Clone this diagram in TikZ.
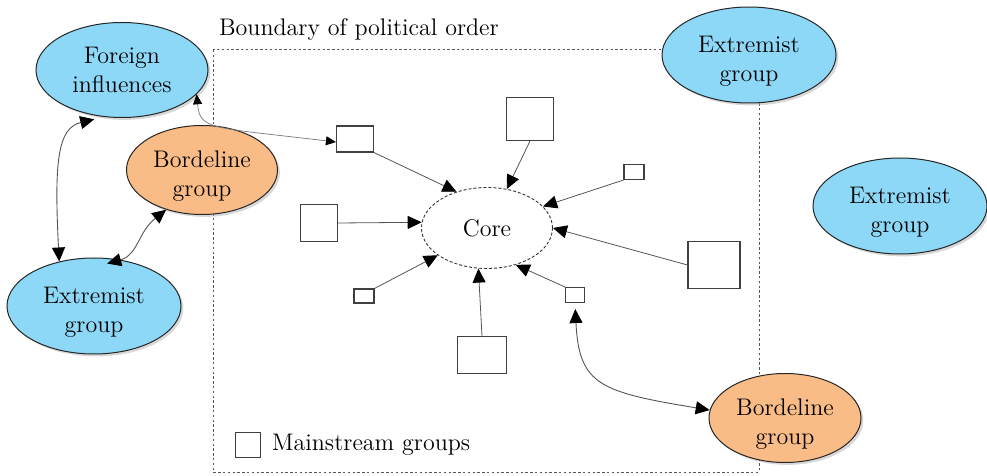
\documentclass[tikz,border=0pt]{standalone}
\usetikzlibrary{shapes.geometric,arrows.meta,shadows}
\definecolor{grpblue}{HTML}{8ED8F7}
\definecolor{grporange}{HTML}{F9BC86}
\definecolor{lnegray}{HTML}{555555}
\newcommand{\lowtxt}{\rule{0pt}{14.5pt}}
\tikzset{
grp/.style={ellipse,draw=black!85,line width=.5pt,inner sep=0pt,align=center,font=\fontsize{12}{14.5}\selectfont,drop shadow={shadow xshift=1.2pt,shadow yshift=-1.2pt,fill=black!30}},
extr/.style={grp,fill=grpblue,minimum width=87pt,minimum height=48pt},
bord/.style={grp,fill=grporange,minimum width=75.5pt,minimum height=44.5pt},
mbox/.style={draw=black!75,line width=.55pt,fill=white,inner sep=0pt},
toc/.style={draw=lnegray,line width=.4pt,-{Triangle[length=7pt,width=6.5pt,color=black]}},
twoway/.style={draw=lnegray,line width=.45pt,{Triangle[length=7pt,width=6.5pt,color=black]}-{Triangle[length=7pt,width=6.5pt,color=black]}}
}
\begin{document}
\begin{tikzpicture}[x=.5pt,y=-.5pt]
\useasboundingbox(0,0)rectangle(987,476);
\draw[lnegray,line width=.5pt,dash pattern=on 1.2pt off 1.2pt](213,50)rectangle(759,472);
\node[anchor=west,font=\fontsize{12}{14.5}\selectfont](title)at(212,30){Boundary of political order};
\node[extr,minimum width=86pt,minimum height=47.5pt](fi)at(122,70){Foreign\\influences};
\node[bord](bg1)at(202,170){\lowtxt Bordeline\\group};
\node[extr](ex1)at(94,306){\lowtxt Extremist\\group};
\node[extr](ex2)at(749,55){\lowtxt Extremist\\group};
\node[extr](ex3)at(900,206){\lowtxt Extremist\\group};
\node[bord,minimum width=76pt](bg2)at(785,418){\lowtxt Bordeline\\group};
\node[ellipse,draw=black!80,line width=.45pt,dash pattern=on 1.5pt off 1pt,minimum width=65.5pt,minimum height=40.5pt,font=\fontsize{12}{14.5}\selectfont](core)at(487,228){Core};
\foreach \n/\p/\w/\h in {sq1/{355,139}/18.5/13,sq2/{530,119}/23.5/21.5,sq3/{634,172}/10/7.5,sq4/{319,223}/18.5/18.5,sq5/{714,265}/26/23.5,sq6/{364,296}/10/7,sq7/{482,355}/24.5/18.5,sq8/{575,295}/9.5/7.5}
  \node[mbox,minimum width=\w pt,minimum height=\h pt](\n)at(\p){};
\draw[toc](sq1.south east)--(core.130);
\draw[toc](sq2.south)--(core.63);
\draw[toc](sq3.south west)--(core.21);
\draw[toc](sq4.east)--(core.175);
\draw[toc](sq5.west)--(core.east);
\draw[toc](sq6.north east)--(core.209);
\draw[toc](sq7.north)--(core.-102);
\draw[toc](sq8.north west)--(core.-52);
\draw[draw=lnegray!80,line width=.35pt,{Triangle[length=5pt,width=4.5pt,color=black]}-{Triangle[length=5pt,width=4.5pt,color=black]}](fi.-18)..controls(200,130)and(210,127)..([yshift=-1.5pt]sq1.west);
\draw[twoway,shorten <=5pt](fi.-111)..controls(58,128)and(54,160)..(ex1.128);
\draw[twoway,shorten >=-7pt](bg1.-132)..controls(138,232)and(138,255)..(ex1.60);
\draw[twoway,shorten <=3pt](sq8.south)..controls(579,385)and(600,392)..(bg2.174);
\node[mbox,minimum size=12.5pt](key)at(248,445){};
\node[anchor=west,font=\fontsize{12}{14.5}\selectfont](keytxt)at([xshift=2pt]key.east){Mainstream groups};
\end{tikzpicture}
\end{document}
